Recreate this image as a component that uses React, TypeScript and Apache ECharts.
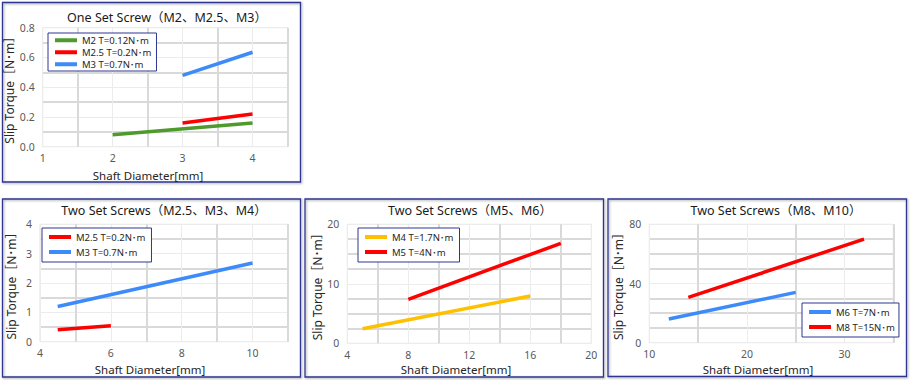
import React, { useEffect, useRef } from "react";
import * as echarts from "echarts";

// ---------- data ----------
const panelTitles = [
  "One Set Screw（M2、M2.5、M3）",
  "Two Set Screws（M2.5、M3、M4）",
  "Two Set Screws（M5、M6）",
  "Two Set Screws（M8、M10）",
];
const yTitle = "Slip Torque［N･m］";
const xTitle = "Shaft Diameter[mm]";

const oneSetNames = ["M2 T=0.12N･m", "M2.5 T=0.2N･m", "M3 T=0.7N･m"];
const oneSetM2: [number, number][] = [[2, 0.08], [4, 0.16]];
const oneSetM25: [number, number][] = [[3, 0.16], [4, 0.22]];
const oneSetM3: [number, number][] = [[3, 0.48], [4, 0.635]];

const twoSetSmallNames = ["M2.5 T=0.2N･m", "M3 T=0.7N･m"];
const twoSetM25: [number, number][] = [[4.5, 0.41], [6, 0.54]];
const twoSetM3: [number, number][] = [[4.5, 1.2], [10, 2.68]];

const twoSetMidNames = ["M4 T=1.7N･m", "M5 T=4N･m"];
const twoSetM4: [number, number][] = [[5, 2.45], [16, 7.95]];
const twoSetM5: [number, number][] = [[8, 7.4], [18, 16.8]];

const twoSetLargeNames = ["M6 T=7N･m", "M8 T=15N･m"];
const twoSetM6: [number, number][] = [[12, 16], [25, 34]];
const twoSetM8: [number, number][] = [[14, 30.6], [32, 70]];

const GREEN = "#4e9a2c";
const RED = "#ff0000";
const BLUE = "#3d8bfa";
const YELLOW = "#ffc000";

// ---------- layout ----------
const FONT = "'Noto Sans', 'Noto Sans CJK JP', sans-serif";
const NAVY = "#2f3690";

const panels = [
  {
    frame: [2.5, 2.5, 298, 179.5],
    grid: { left: 42.7, top: 27.7, width: 244.8, height: 119 },
    x: { min: 1, max: 4.5, interval: 1, showMax: false },
    xDark: { start: 1.5, end: 4.5, step: 1 },
    y: { min: 0, max: 0.8, interval: 0.2, minor: 2, decimals: 1 },
    yGap: 27,
    title: [167, 17],
    xTitle: [148, 175.5],
    legend: { left: 48, top: 33, itemGap: 1.5, lineHeight: 10.5, padding: [2, 5, 1.5, 7] },
    names: oneSetNames,
    data: [oneSetM2, oneSetM25, oneSetM3],
    colors: [GREEN, RED, BLUE],
  },
  {
    frame: [2.5, 199, 298, 178],
    grid: { left: 40, top: 224.3, width: 248, height: 117.4 },
    x: { min: 4, max: 11, interval: 2, showMax: false },
    xDark: { start: 5, end: 11, step: 2 },
    y: { min: 0, max: 4, interval: 1, minor: 2, decimals: 0 },
    yGap: 23,
    title: [164, 210],
    xTitle: [150, 369],
    legend: { left: 42, top: 228, itemGap: 3, lineHeight: 12, padding: [3, 6, 4, 7] },
    names: twoSetSmallNames,
    data: [twoSetM25, twoSetM3],
    colors: [RED, BLUE],
  },
  {
    frame: [305, 199, 298.5, 178],
    grid: { left: 347.3, top: 224.3, width: 244, height: 119 },
    x: { min: 4, max: 20, interval: 4, showMax: true },
    xDark: { start: 6, end: 18, step: 4 },
    y: { min: 0, max: 20, interval: 10, minor: 4, decimals: 0 },
    yGap: 23,
    title: [470, 210],
    xTitle: [456, 369],
    legend: { left: 358, top: 228, itemGap: 3, lineHeight: 12, padding: [3, 6, 4, 7] },
    names: twoSetMidNames,
    data: [twoSetM4, twoSetM5],
    colors: [YELLOW, RED],
  },
  {
    frame: [608, 199, 298.5, 177.5],
    grid: { left: 649.3, top: 224.3, width: 244, height: 118.4 },
    x: { min: 10, max: 35, interval: 10, showMax: false },
    xDark: { start: 15, end: 35, step: 10 },
    y: { min: 0, max: 80, interval: 40, minor: 4, decimals: 0 },
    yGap: 25,
    title: [776, 210.5],
    xTitle: [758, 369],
    legend: { left: 802, top: 303, itemGap: 3, lineHeight: 12, padding: [3, 4, 4, 7] },
    names: twoSetLargeNames,
    data: [twoSetM6, twoSetM8],
    colors: [BLUE, RED],
  },
];

function buildOption() {
  const grid: any[] = [];
  const xAxis: any[] = [];
  const yAxis: any[] = [];
  const series: any[] = [];
  const legend: any[] = [];
  const graphic: any[] = [];

  panels.forEach((p, i) => {
    const g = p.grid;
    const mainIdx = i * 2;
    const darkIdx = i * 2 + 1;
    const span = p.x.max - p.x.min;
    grid.push({
      left: g.left,
      top: g.top,
      width: g.width,
      height: g.height,
      show: true,
      borderColor: "#e2e2e2",
      borderWidth: 1,
      backgroundColor: "transparent",
      containLabel: false,
    });
    grid.push({
      left: g.left + ((p.xDark.start - p.x.min) / span) * g.width,
      top: g.top,
      width: ((p.xDark.end - p.xDark.start) / span) * g.width,
      height: g.height,
      show: false,
    });
    xAxis.push({
      type: "value",
      gridIndex: mainIdx,
      min: p.x.min,
      max: p.x.max,
      interval: p.x.interval,
      axisLine: { show: false },
      axisTick: { show: false },
      axisLabel: {
        showMaxLabel: p.x.showMax,
        color: "#595959",
        fontSize: 10.5,
        fontFamily: FONT,
        margin: 6,
      },
      splitLine: { show: true, lineStyle: { color: "#ececec", width: 1 } },
    });
    xAxis.push({
      type: "value",
      gridIndex: darkIdx,
      min: p.xDark.start,
      max: p.xDark.end,
      interval: p.xDark.step,
      axisLine: { show: false },
      axisTick: { show: false },
      axisLabel: { show: false },
      splitLine: { show: true, lineStyle: { color: "#d9d9d9", width: 2 } },
    });
    const dec = p.y.decimals;
    yAxis.push({
      type: "value",
      gridIndex: mainIdx,
      min: p.y.min,
      max: p.y.max,
      interval: p.y.interval,
      name: yTitle,
      nameLocation: "middle",
      nameGap: p.yGap,
      nameRotate: 90,
      nameTextStyle: { fontSize: 12, color: "#262626", fontFamily: FONT },
      axisLine: { show: false },
      axisTick: { show: false },
      axisLabel: {
        color: "#595959",
        fontSize: 10.5,
        fontFamily: FONT,
        margin: 8,
        formatter: (v: number) => v.toFixed(dec),
      },
      splitLine: { show: true, lineStyle: { color: "#ececec", width: 1 } },
      minorTick: { show: false, splitNumber: p.y.minor },
      minorSplitLine: { show: true, lineStyle: { color: "#d9d9d9", width: 2 } },
    });
    yAxis.push({ type: "value", gridIndex: darkIdx, show: false, min: 0, max: 1 });

    p.names.forEach((name, k) => {
      series.push({
        type: "line",
        name,
        xAxisIndex: mainIdx,
        yAxisIndex: mainIdx,
        data: p.data[k],
        showSymbol: false,
        symbol: "none",
        lineStyle: { width: 3.5, color: p.colors[k], cap: "butt" },
        itemStyle: { color: p.colors[k] },
        z: 3,
      });
    });

    legend.push({
      orient: "vertical",
      left: p.legend.left,
      top: p.legend.top,
      data: p.names,
      icon: "rect",
      itemWidth: 22,
      itemHeight: 4,
      itemGap: p.legend.itemGap,
      padding: p.legend.padding,
      borderColor: NAVY,
      borderWidth: 1,
      borderRadius: 0,
      backgroundColor: "#ffffff",
      selectedMode: false,
      textStyle: {
        fontSize: 9.5,
        color: "#262626",
        lineHeight: p.legend.lineHeight,
        fontFamily: FONT,
      },
    });

    const [fx, fy, fw, fh] = p.frame;
    graphic.push({
      type: "rect",
      shape: { x: fx, y: fy, width: fw, height: fh },
      style: {
        fill: "none",
        stroke: NAVY,
        lineWidth: 1.3,
        shadowColor: "rgba(0,0,0,0.35)",
        shadowBlur: 2,
        shadowOffsetX: 1,
        shadowOffsetY: 1,
      },
      silent: true,
      z: 10,
    });
    graphic.push({
      type: "text",
      x: p.title[0],
      y: p.title[1],
      style: {
        text: panelTitles[i],
        fill: "#1a1a1a",
        fontSize: 12.5,
        fontWeight: "normal",
        fontFamily: FONT,
        align: "center",
        verticalAlign: "middle",
        textAlign: "center",
        textVerticalAlign: "middle",
      },
      silent: true,
      z: 10,
    });
    graphic.push({
      type: "text",
      x: p.xTitle[0],
      y: p.xTitle[1],
      style: {
        text: xTitle,
        fill: "#262626",
        fontSize: 11.5,
        fontWeight: "normal",
        fontFamily: FONT,
        align: "center",
        verticalAlign: "middle",
        textAlign: "center",
        textVerticalAlign: "middle",
      },
      silent: true,
      z: 10,
    });
  });

  return {
    animation: false,
    backgroundColor: "#ffffff",
    textStyle: { fontFamily: FONT },
    grid,
    xAxis,
    yAxis,
    series,
    legend,
    graphic,
  };
}

export default function App() {
  const ref = useRef<HTMLDivElement>(null);
  useEffect(() => {
    if (!ref.current) return;
    const chart = echarts.init(ref.current, null, { renderer: "svg" });
    chart.setOption(buildOption() as any);
    return () => chart.dispose();
  }, []);
  return (
    <div
      ref={ref}
      style={{ position: "fixed", left: 0, top: 0, width: 910, height: 380 }}
    />
  );
}
